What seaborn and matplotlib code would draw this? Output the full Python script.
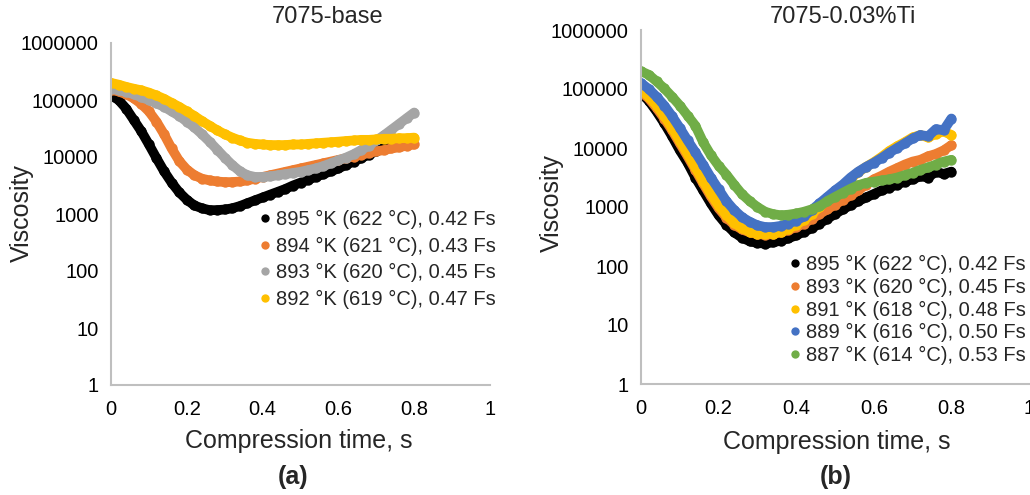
import matplotlib
matplotlib.use("Agg")
import matplotlib.pyplot as plt
from matplotlib.lines import Line2D
import numpy as np
import pandas as pd
import seaborn as sns

sns.set_style("white")
plt.rcParams['font.family'] = ['Liberation Sans', 'DejaVu Sans']

# ---------------------------------------------------------------------
# data (compression time in s, viscosity)
# ---------------------------------------------------------------------
time_s = [0.00, 0.02, 0.04, 0.06, 0.08, 0.10, 0.12, 0.14, 0.16, 0.18,
          0.20, 0.22, 0.24, 0.26, 0.28, 0.30, 0.32, 0.34, 0.36, 0.38,
          0.40, 0.42, 0.44, 0.46, 0.48, 0.50, 0.52, 0.54, 0.56, 0.58,
          0.60, 0.62, 0.64, 0.66, 0.68, 0.70, 0.72, 0.74, 0.76, 0.78, 0.80]

# (a) 7075-base
base_895 = [120000, 100000, 70800, 44700, 28200, 16600, 9550, 5620, 3550, 2400,
            1780, 1410, 1260, 1170, 1170, 1200, 1260, 1380, 1550, 1740,
            1950, 2190, 2450, 2750, 3160, 3550, 3980, 4470, 5010, 5620,
            6310, 7240, 8320, 9550, 11000, 12600, 14500, 15800]
base_894 = [151000, 141000, 126000, 107000, 85100, 63100, 41700, 25100, 14100, 8510,
            6030, 4790, 4170, 3890, 3720, 3630, 3630, 3720, 3890, 4170,
            4470, 4790, 5130, 5500, 5890, 6310, 6760, 7240, 7760, 8320,
            8910, 9550, 10200, 11000, 11700, 12600, 13200, 14100, 14800, 15800, 16600]
base_893 = [158000, 148000, 138000, 126000, 112000, 100000, 87100, 75900, 63100, 52500,
            41700, 33100, 25100, 18600, 13500, 9770, 7240, 5620, 4790, 4470,
            4470, 4570, 4790, 5010, 5250, 5500, 5890, 6310, 6920, 7760,
            8710, 9770, 11200, 13200, 15800, 19500, 24000, 30200, 38000, 47900, 60300]
base_892 = [200000, 186000, 170000, 158000, 148000, 135000, 120000, 105000, 89100, 75900,
            63100, 52500, 42700, 35500, 29500, 25100, 21900, 19500, 17800, 17000,
            16600, 16200, 16200, 16200, 16600, 16600, 17000, 17400, 17800, 18200,
            18600, 19100, 19500, 20000, 20000, 20400, 20900, 20900, 21400, 21400, 21900]

# (b) 7075-0.03%Ti
ti_895 = [85100, 63100, 41700, 26300, 15800, 9120, 5620, 3160, 1910, 1150,
          724, 501, 372, 302, 263, 245, 240, 251, 269, 295,
          331, 380, 437, 525, 631, 759, 912, 1070, 1260, 1450,
          1660, 1910, 2140, 2400, 2690, 2950, 3310, 3160, 3980, 3630, 3980]
ti_893 = [89100, 69200, 47900, 31600, 20000, 12000, 7240, 4270, 2510, 1510,
          955, 661, 501, 417, 372, 347, 339, 347, 372, 407,
          457, 525, 631, 759, 912, 1100, 1320, 1580, 1910, 2400,
          2950, 3390, 3980, 4570, 5250, 5890, 6310, 7240, 7940, 9120, 11200]
ti_891 = [95500, 74100, 52500, 34700, 21900, 13200, 7940, 4680, 2750, 1660,
          1050, 724, 537, 437, 380, 355, 347, 355, 380, 427,
          501, 603, 759, 1000, 1320, 1740, 2290, 3020, 3890, 4790,
          5750, 7080, 8910, 10700, 12600, 15100, 16600, 15100, 17400, 19100, 16600]
ti_889 = [126000, 100000, 74100, 52500, 34700, 21900, 13500, 8510, 5250, 3160,
          2000, 1260, 891, 676, 562, 490, 457, 457, 479, 525,
          589, 692, 891, 1150, 1480, 1910, 2400, 3160, 3980, 4790,
          5620, 6760, 8320, 10000, 12000, 14500, 16600, 15800, 20900, 20000, 31600]
ti_887 = [200000, 174000, 135000, 102000, 74100, 52500, 35500, 24000, 12600, 7590,
          5010, 3550, 2400, 1660, 1260, 1000, 832, 759, 724, 741,
          776, 832, 912, 1020, 1260, 1480, 1740, 2040, 2340, 2570,
          2690, 2820, 2950, 3160, 3470, 3800, 4270, 4680, 5250, 5890, 6310]

labels_a = ['895 °K (622 °C), 0.42 Fs', '894 °K (621 °C), 0.43 Fs',
            '893 °K (620 °C), 0.45 Fs', '892 °K (619 °C), 0.47 Fs']
labels_b = ['895 °K (622 °C), 0.42 Fs', '893 °K (620 °C), 0.45 Fs',
            '891 °K (618 °C), 0.48 Fs', '889 °K (616 °C), 0.50 Fs',
            '887 °K (614 °C), 0.53 Fs']
colors_a = ['#000000', '#ED7D31', '#A5A5A5', '#FFC000']
colors_b = ['#000000', '#ED7D31', '#FFC000', '#4472C4', '#70AD47']

y_ticks = [1, 10, 100, 1000, 10000, 100000, 1000000]
y_ticklabels = ['1', '10', '100', '1000', '10000', '100000', '1000000']
x_ticks = [0, 0.2, 0.4, 0.6, 0.8, 1.0]
x_ticklabels = ['0', '0.2', '0.4', '0.6', '0.8', '1']

# ---------------------------------------------------------------------
W, H = 1030, 495
fig = plt.figure(figsize=(W / 100, H / 100), dpi=100)

def px(x, y):
    return x / W, 1 - y / H

ax_a = fig.add_axes([111 / W, (H - 385) / H, 379 / W, (385 - 43) / H])
ax_b = fig.add_axes([641 / W, (H - 384) / H, 388 / W, (384 - 30) / H])

axis_gray = '#BFBFBF'

def draw_panel(ax, series, labels, colors):
    for vals, lab, col in zip(series, labels, colors):
        sns.lineplot(x=time_s[:len(vals)], y=vals, ax=ax, color=col,
                     linewidth=7, marker='o', markersize=7.5, markeredgewidth=0,
                     solid_capstyle='round', solid_joinstyle='round',
                     sort=False, estimator=None, legend=False)
    ax.set_yscale('log')
    ax.set_xlim(0, 1)
    ax.set_ylim(1, 1000000)
    ax.set_yticks(y_ticks)
    ax.set_yticklabels(y_ticklabels)
    ax.yaxis.set_minor_locator(matplotlib.ticker.NullLocator())
    ax.set_xticks(x_ticks)
    ax.set_xticklabels(x_ticklabels)
    ax.set_xlabel('')
    ax.set_ylabel('')
    for s in ['top', 'right']:
        ax.spines[s].set_visible(False)
    for s in ['left', 'bottom']:
        ax.spines[s].set_color(axis_gray)
        ax.spines[s].set_linewidth(1.5)
    ax.tick_params(axis='both', which='major', direction='out', length=5,
                   width=1.5, color=axis_gray, labelsize=14.5, labelcolor='black')
    ax.tick_params(axis='x', pad=6)
    ax.tick_params(axis='y', pad=4)

draw_panel(ax_a, [base_895, base_894, base_893, base_892], labels_a, colors_a)
draw_panel(ax_b, [ti_895, ti_893, ti_891, ti_889, ti_887], labels_b, colors_b)

# legends (dot markers only)
def dot_handles(colors):
    return [Line2D([], [], linestyle='none', marker='o', markersize=6,
                   markerfacecolor=c, markeredgewidth=0) for c in colors]

ax_a.legend(dot_handles(colors_a), labels_a, loc='upper left',
            bbox_to_anchor=px(260, 210), bbox_transform=fig.transFigure,
            frameon=False, fontsize=14.5, handlelength=0.5, handletextpad=0.3,
            labelspacing=0.38, borderpad=0, borderaxespad=0)
ax_b.legend(dot_handles(colors_b), labels_b, loc='upper left',
            bbox_to_anchor=px(790, 255), bbox_transform=fig.transFigure,
            frameon=False, fontsize=14.5, handlelength=0.5, handletextpad=0.3,
            labelspacing=0.185, borderpad=0, borderaxespad=0)

# titles, axis labels, panel letters
fig.text(*px(328, 17), '7075-base', ha='center', va='center', fontsize=17)
fig.text(*px(843, 17), '7075-0.03%Ti', ha='center', va='center', fontsize=17)
fig.text(*px(22, 213), 'Viscosity', rotation=90, ha='center', va='center', fontsize=18)
fig.text(*px(552, 203), 'Viscosity', rotation=90, ha='center', va='center', fontsize=18)
fig.text(*px(299, 441), 'Compression time, s', ha='center', va='center', fontsize=18)
fig.text(*px(837, 442), 'Compression time, s', ha='center', va='center', fontsize=18)
fig.text(*px(293, 477), '(a)', ha='center', va='center', fontsize=18, fontweight='bold')
fig.text(*px(836, 477), '(b)', ha='center', va='center', fontsize=18, fontweight='bold')

fig.savefig('out.png', dpi=100)
